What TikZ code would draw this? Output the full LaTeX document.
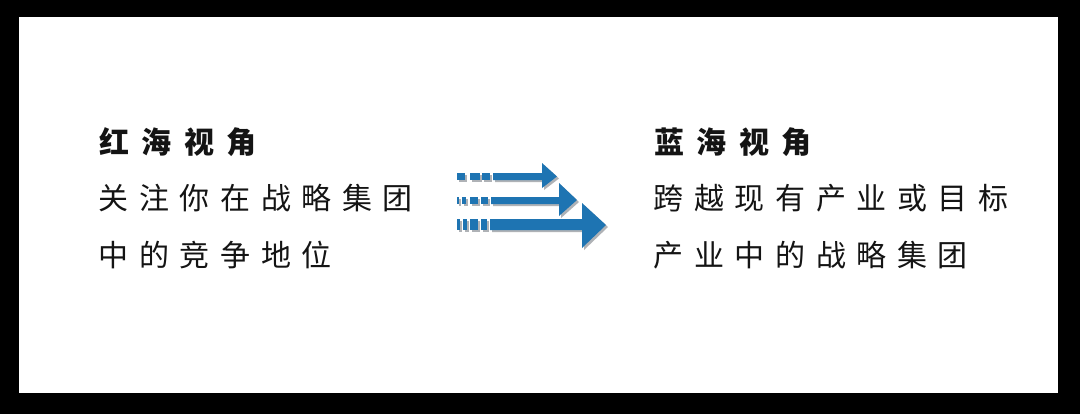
\documentclass[tikz,border=0pt]{standalone}
\usepackage{fontspec}
\newfontfamily\cjk{Noto Sans CJK SC}
\newcommand\kgap{\hspace{10.6bp}}
\newcommand\tgap{\hspace{12.2bp}}
\definecolor{arrowblue}{RGB}{30,116,178}
\definecolor{shadowgray}{RGB}{175,178,182}
\definecolor{textblack}{RGB}{20,20,20}
\begin{document}
\begin{tikzpicture}[x=1bp,y=-1bp,
  txt/.style={anchor=base west,inner sep=0pt,text=textblack,font=\cjk\fontsize{30bp}{36bp}\selectfont},
  ttl/.style={txt,font=\cjk\bfseries\fontsize{30bp}{36bp}\selectfont},
  arrowfill/.style={fill=arrowblue},
  shadowfill/.style={fill=shadowgray}]
\useasboundingbox (0,0) rectangle (1080,414);
\fill[black] (0,0) rectangle (1080,414);
\fill[white] (19,17) rectangle (1058,393);
% left text
\node[ttl] (lt) at (99.5,153) {红\tgap 海\tgap 视\tgap 角};
\node[txt] (l1) at (98.5,209) {关\kgap 注\kgap 你\kgap 在\kgap 战\kgap 略\kgap 集\kgap 团};
\node[txt] (l2) at (98.5,266) {中\kgap 的\kgap 竞\kgap 争\kgap 地\kgap 位};
% right text
\node[ttl] (rt) at (654.5,153) {蓝\tgap 海\tgap 视\tgap 角};
\node[txt] (r1) at (653.5,209) {跨\kgap 越\kgap 现\kgap 有\kgap 产\kgap 业\kgap 或\kgap 目\kgap 标};
\node[txt] (r2) at (653.5,266) {产\kgap 业\kgap 中\kgap 的\kgap 战\kgap 略\kgap 集\kgap 团};
% arrows: shadow then body
\foreach \dx/\dy/\st in {2/2/shadowfill,0/0/arrowfill}{
  \begin{scope}[shift={(\dx,\dy)}]
  % arrow 1
  \fill[\st] (493,173) -- (542,173) -- (542,163) -- (557,176.5) -- (542,188) -- (542,180) -- (493,180) -- cycle;
  \foreach \a/\b in {457/465,470/480,482/490}{\fill[\st] (\a,173) rectangle (\b,180);}
  % arrow 2
  \fill[\st] (491,197) -- (559,197) -- (559,183) -- (577,200) -- (559,216) -- (559,204) -- (491,204) -- cycle;
  \foreach \a/\b in {457/459,462/466,470/478,481/488}{\fill[\st] (\a,197) rectangle (\b,204);}
  % arrow 3
  \fill[\st] (490,219) -- (582,219) -- (582,203) -- (606,225) -- (582,248) -- (582,230) -- (490,230) -- cycle;
  \foreach \a/\b in {457/460,463/467,470/478,481/487}{\fill[\st] (\a,219) rectangle (\b,230);}
  \end{scope}
}
\end{tikzpicture}
\end{document}
